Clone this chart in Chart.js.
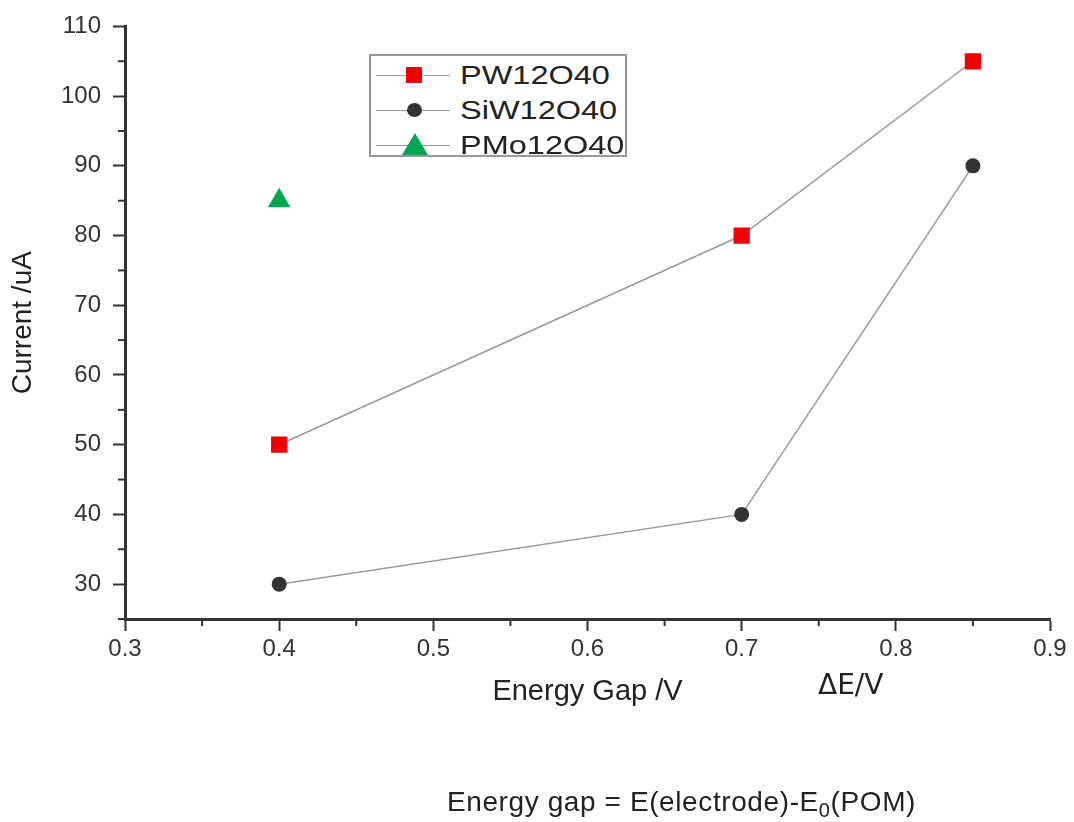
<!DOCTYPE html>
<html>
<head>
<meta charset="utf-8">
<script src="https://cdn.jsdelivr.net/npm/chart.js@4"></script>
<style>
body { margin: 0; background: #fff; }
#wrap { position: relative; width: 1074px; height: 822px; }
#legend { position: absolute; left: 369px; top: 54px; width: 254px; height: 99px; border: 2px solid #999; background: #fff; }
.row { position: absolute; left: 0; height: 30px; width: 254px; }
.row .ln { position: absolute; left: 5px; top: 15px; width: 74px; height: 0; border-top: 1.5px solid #999; }
.row .mk { position: absolute; }
.row .tx { position: absolute; left: 89px; top: 0; font: 26px "Liberation Sans", Arial, sans-serif; color: #222; line-height: 30px; transform: scaleX(1.25); transform-origin: left center; white-space: nowrap; }
#de { position: absolute; left: 818px; top: 668px; font: 28px "DejaVu Sans", sans-serif; color: #222; }
#formula { position: absolute; left: 447px; top: 786px; font: 28px "Liberation Sans", Arial, sans-serif; letter-spacing: 0.6px; color: #222; white-space: nowrap; }
#formula sub { font-size: 20px; vertical-align: -6px; }
</style>
</head>
<body>
<div id="wrap">
  <canvas id="chart"></canvas>
  <div id="legend"></div>
  <div id="de">ΔE/V</div>
  <div id="formula">Energy gap = E(electrode)-E<sub>0</sub>(POM)</div>
</div>
<script>
const seriesNames = ['PW12O40', 'SiW12O40', 'PMo12O40'];
const pwX = [0.4, 0.7, 0.85];
const pwY = [50, 80, 105];
const siwX = [0.4, 0.7, 0.85];
const siwY = [30, 40, 90];
const pmoX = [0.4];
const pmoY = [85];
const xTicks = [0.3, 0.4, 0.5, 0.6, 0.7, 0.8, 0.9];
const yTicks = [30, 40, 50, 60, 70, 80, 90, 100, 110];

const font = 'Liberation Sans, Arial, sans-serif';
const axisColor = '#333';

function points(xs, ys) {
    return xs.map((x, i) => ({ x: x, y: ys[i] }));
}

// short minor ticks between the labelled ones
const minorTicks = {
    id: 'minorTicks',
    afterDraw(chart) {
        const ctx = chart.ctx;
        const xs = chart.scales.x;
        const ys = chart.scales.y;
        ctx.save();
        ctx.strokeStyle = axisColor;
        ctx.lineWidth = 2;
        for (let i = 0; i < xTicks.length - 1; i++) {
            const px = xs.getPixelForValue((xTicks[i] + xTicks[i + 1]) / 2);
            ctx.beginPath();
            ctx.moveTo(px, ys.bottom);
            ctx.lineTo(px, ys.bottom + 7);
            ctx.stroke();
        }
        const yVals = [yTicks[0] - 5].concat(yTicks.slice(0, -1).map((v, i) => (v + yTicks[i + 1]) / 2));
        yVals.forEach(v => {
            const py = ys.getPixelForValue(v);
            ctx.beginPath();
            ctx.moveTo(xs.left, py);
            ctx.lineTo(xs.left - 7, py);
            ctx.stroke();
        });
        ctx.restore();
    }
};

const ctx = document.getElementById('chart').getContext('2d');

const chart = new Chart(ctx, {
    type: 'scatter',
    data: {
        datasets: [{
            label: seriesNames[0],
            data: points(pwX, pwY),
            showLine: true,
            borderColor: '#999',
            borderWidth: 1.5,
            pointStyle: 'rect',
            pointRadius: 11.5,
            pointBackgroundColor: '#f00000',
            pointBorderColor: '#e00000',
            pointBorderWidth: 0
        }, {
            label: seriesNames[1],
            data: points(siwX, siwY),
            showLine: true,
            borderColor: '#999',
            borderWidth: 1.5,
            pointStyle: 'circle',
            pointRadius: 7.5,
            pointBackgroundColor: '#333',
            pointBorderColor: '#333',
            pointBorderWidth: 0
        }, {
            label: seriesNames[2],
            data: points(pmoX, pmoY),
            showLine: true,
            borderColor: '#999',
            borderWidth: 1.5,
            pointStyle: 'triangle',
            pointRadius: 13,
            pointBackgroundColor: '#00a651',
            pointBorderColor: '#00a651',
            pointBorderWidth: 0
        }]
    },
    options: {
        responsive: true,
        maintainAspectRatio: false,
        animation: false,
        layout: {
            padding: { left: 0, top: 25, right: 24, bottom: 113 }
        },
        plugins: {
            legend: { display: false },
            tooltip: { enabled: false }
        },
        scales: {
            x: {
                type: 'linear',
                min: xTicks[0],
                max: xTicks[xTicks.length - 1],
                afterBuildTicks(scale) {
                    scale.ticks = xTicks.map(v => ({ value: v }));
                },
                afterFit(scale) {
                    scale.height = 90;
                },
                ticks: {
                    callback: v => v.toFixed(1),
                    color: '#333',
                    font: { family: font, size: 24 },
                    padding: 4,
                    maxRotation: 0
                },
                grid: {
                    drawOnChartArea: false,
                    drawTicks: true,
                    tickLength: 12,
                    tickWidth: 2,
                    tickColor: axisColor
                },
                border: { color: axisColor, width: 3 },
                title: {
                    display: true,
                    text: 'Energy Gap /V',
                    color: '#222',
                    font: { family: font, size: 29 },
                    padding: { top: 0, bottom: 0 }
                }
            },
            y: {
                type: 'linear',
                min: 25,
                max: yTicks[yTicks.length - 1],
                afterBuildTicks(scale) {
                    scale.ticks = yTicks.map(v => ({ value: v }));
                },
                afterFit(scale) {
                    scale.width = 125;
                },
                ticks: {
                    color: '#333',
                    font: { family: font, size: 24 },
                    padding: 12
                },
                grid: {
                    drawOnChartArea: false,
                    drawTicks: true,
                    tickLength: 12,
                    tickWidth: 2,
                    tickColor: axisColor
                },
                border: { color: axisColor, width: 3 },
                title: {
                    display: true,
                    text: 'Current /uA',
                    color: '#222',
                    font: { family: font, size: 28 },
                    padding: { top: 6, bottom: 0 }
                }
            }
        }
    },
    plugins: [minorTicks]
});

// legend: line with the marker in the middle, like the original plot
const legendEl = document.getElementById('legend');
const markerCss = [
    'left:35px;top:7px;width:16px;height:16px;background:#f00000;',
    'left:36px;top:8px;width:15px;height:14px;border-radius:50%;background:#333;',
    'left:31px;top:3px;width:0;height:0;border-left:13px solid transparent;border-right:13px solid transparent;border-bottom:22px solid #00a651;'
];
seriesNames.forEach((name, i) => {
    const row = document.createElement('div');
    row.className = 'row';
    row.style.top = (4 + i * 35) + 'px';
    row.innerHTML = '<div class="ln"></div><div class="mk" style="' + markerCss[i] + '"></div><div class="tx">' + name + '</div>';
    legendEl.appendChild(row);
});
</script>
</body>
</html>
